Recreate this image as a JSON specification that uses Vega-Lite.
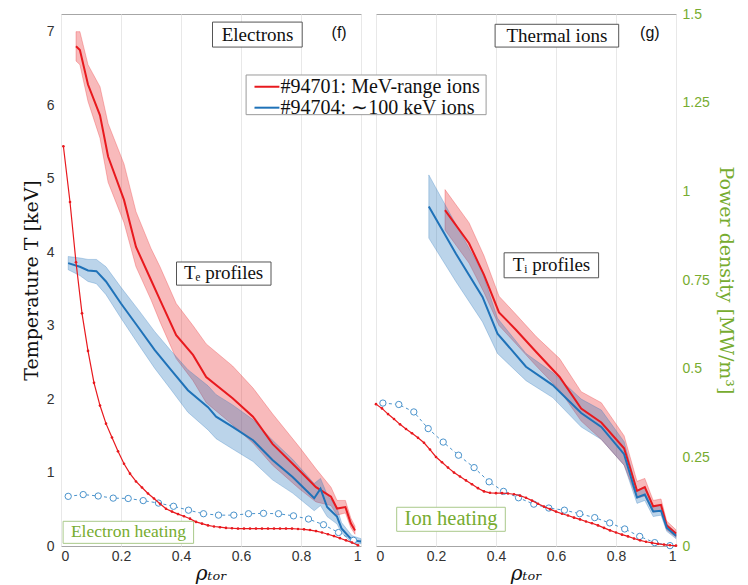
{
  "$schema": "https://vega.github.io/schema/vega-lite/v6.json",
  "padding": {"left": 21, "top": 6, "right": 2, "bottom": 0},
  "background": "white",
  "bounds": "flush",
  "config": {
    "view": {"stroke": "#a6a6a6"},
    "font": "Liberation Sans",
    "axis": {"labelFont": "Liberation Sans", "labelFontSize": 14, "labelColor": "#333333", "titleFont": "DejaVu Serif", "titleFontWeight": "normal", "titleFontSize": 19, "titleColor": "#111111", "domain": false, "ticks": false, "grid": false},
    "concat": {"spacing": 15}
  },
  "datasets": {
    "te": [
      {"shot": "#94701: MeV-range ions", "rho": 0.05, "T": 6.80, "lo": 6.60, "hi": 7.00},
      {"shot": "#94701: MeV-range ions", "rho": 0.063, "T": 6.75, "lo": 6.55, "hi": 7.00},
      {"shot": "#94701: MeV-range ions", "rho": 0.09, "T": 6.28, "lo": 6.05, "hi": 6.55},
      {"shot": "#94701: MeV-range ions", "rho": 0.13, "T": 5.86, "lo": 5.55, "hi": 6.25},
      {"shot": "#94701: MeV-range ions", "rho": 0.157, "T": 5.30, "lo": 4.95, "hi": 5.75},
      {"shot": "#94701: MeV-range ions", "rho": 0.21, "T": 4.71, "lo": 4.40, "hi": 5.20},
      {"shot": "#94701: MeV-range ions", "rho": 0.25, "T": 4.07, "lo": 3.80, "hi": 4.55},
      {"shot": "#94701: MeV-range ions", "rho": 0.30, "T": 3.62, "lo": 3.35, "hi": 4.05},
      {"shot": "#94701: MeV-range ions", "rho": 0.33, "T": 3.35, "lo": 3.05, "hi": 3.80},
      {"shot": "#94701: MeV-range ions", "rho": 0.384, "T": 2.87, "lo": 2.55, "hi": 3.30},
      {"shot": "#94701: MeV-range ions", "rho": 0.44, "T": 2.60, "lo": 2.25, "hi": 3.00},
      {"shot": "#94701: MeV-range ions", "rho": 0.484, "T": 2.30, "lo": 1.95, "hi": 2.75},
      {"shot": "#94701: MeV-range ions", "rho": 0.572, "T": 2.01, "lo": 1.65, "hi": 2.45},
      {"shot": "#94701: MeV-range ions", "rho": 0.64, "T": 1.76, "lo": 1.40, "hi": 2.15},
      {"shot": "#94701: MeV-range ions", "rho": 0.705, "T": 1.39, "lo": 1.10, "hi": 1.80},
      {"shot": "#94701: MeV-range ions", "rho": 0.794, "T": 1.03, "lo": 0.78, "hi": 1.35},
      {"shot": "#94701: MeV-range ions", "rho": 0.85, "T": 0.80, "lo": 0.60, "hi": 1.05},
      {"shot": "#94701: MeV-range ions", "rho": 0.90, "T": 0.67, "lo": 0.55, "hi": 0.80},
      {"shot": "#94701: MeV-range ions", "rho": 0.92, "T": 0.51, "lo": 0.42, "hi": 0.62},
      {"shot": "#94701: MeV-range ions", "rho": 0.948, "T": 0.53, "lo": 0.45, "hi": 0.62},
      {"shot": "#94701: MeV-range ions", "rho": 0.966, "T": 0.31, "lo": 0.25, "hi": 0.38},
      {"shot": "#94701: MeV-range ions", "rho": 0.98, "T": 0.21, "lo": 0.16, "hi": 0.27},
      {"shot": "#94704: ∼100 keV ions", "rho": 0.024, "T": 3.85, "lo": 3.76, "hi": 3.94},
      {"shot": "#94704: ∼100 keV ions", "rho": 0.063, "T": 3.80, "lo": 3.68, "hi": 3.92},
      {"shot": "#94704: ∼100 keV ions", "rho": 0.09, "T": 3.75, "lo": 3.60, "hi": 3.90},
      {"shot": "#94704: ∼100 keV ions", "rho": 0.118, "T": 3.74, "lo": 3.57, "hi": 3.90},
      {"shot": "#94704: ∼100 keV ions", "rho": 0.15, "T": 3.60, "lo": 3.42, "hi": 3.80},
      {"shot": "#94704: ∼100 keV ions", "rho": 0.20, "T": 3.30, "lo": 3.10, "hi": 3.52},
      {"shot": "#94704: ∼100 keV ions", "rho": 0.257, "T": 2.98, "lo": 2.75, "hi": 3.22},
      {"shot": "#94704: ∼100 keV ions", "rho": 0.312, "T": 2.67, "lo": 2.42, "hi": 2.92},
      {"shot": "#94704: ∼100 keV ions", "rho": 0.368, "T": 2.39, "lo": 2.12, "hi": 2.65},
      {"shot": "#94704: ∼100 keV ions", "rho": 0.423, "T": 2.12, "lo": 1.82, "hi": 2.40},
      {"shot": "#94704: ∼100 keV ions", "rho": 0.49, "T": 1.89, "lo": 1.58, "hi": 2.18},
      {"shot": "#94704: ∼100 keV ions", "rho": 0.517, "T": 1.76, "lo": 1.46, "hi": 2.06},
      {"shot": "#94704: ∼100 keV ions", "rho": 0.572, "T": 1.62, "lo": 1.32, "hi": 1.92},
      {"shot": "#94704: ∼100 keV ions", "rho": 0.64, "T": 1.44, "lo": 1.15, "hi": 1.72},
      {"shot": "#94704: ∼100 keV ions", "rho": 0.705, "T": 1.17, "lo": 0.90, "hi": 1.44},
      {"shot": "#94704: ∼100 keV ions", "rho": 0.772, "T": 0.94, "lo": 0.72, "hi": 1.18},
      {"shot": "#94704: ∼100 keV ions", "rho": 0.844, "T": 0.65, "lo": 0.48, "hi": 0.85},
      {"shot": "#94704: ∼100 keV ions", "rho": 0.865, "T": 0.78, "lo": 0.55, "hi": 0.92},
      {"shot": "#94704: ∼100 keV ions", "rho": 0.887, "T": 0.53, "lo": 0.40, "hi": 0.70},
      {"shot": "#94704: ∼100 keV ions", "rho": 0.92, "T": 0.40, "lo": 0.30, "hi": 0.52},
      {"shot": "#94704: ∼100 keV ions", "rho": 0.935, "T": 0.24, "lo": 0.18, "hi": 0.32},
      {"shot": "#94704: ∼100 keV ions", "rho": 0.97, "T": 0.08, "lo": 0.04, "hi": 0.14},
      {"shot": "#94704: ∼100 keV ions", "rho": 1.0, "T": 0.06, "lo": 0.03, "hi": 0.10}
    ],
    "ti": [
      {"shot": "#94701: MeV-range ions", "rho": 0.23, "T": 4.57, "lo": 4.30, "hi": 4.85},
      {"shot": "#94701: MeV-range ions", "rho": 0.31, "T": 4.12, "lo": 3.85, "hi": 4.40},
      {"shot": "#94701: MeV-range ions", "rho": 0.36, "T": 3.69, "lo": 3.45, "hi": 3.95},
      {"shot": "#94701: MeV-range ions", "rho": 0.41, "T": 3.18, "lo": 3.00, "hi": 3.40},
      {"shot": "#94701: MeV-range ions", "rho": 0.467, "T": 2.94, "lo": 2.75, "hi": 3.15},
      {"shot": "#94701: MeV-range ions", "rho": 0.534, "T": 2.64, "lo": 2.45, "hi": 2.85},
      {"shot": "#94701: MeV-range ions", "rho": 0.612, "T": 2.30, "lo": 2.12, "hi": 2.55},
      {"shot": "#94701: MeV-range ions", "rho": 0.684, "T": 1.87, "lo": 1.70, "hi": 2.10},
      {"shot": "#94701: MeV-range ions", "rho": 0.751, "T": 1.68, "lo": 1.45, "hi": 1.95},
      {"shot": "#94701: MeV-range ions", "rho": 0.827, "T": 1.33, "lo": 1.10, "hi": 1.50},
      {"shot": "#94701: MeV-range ions", "rho": 0.87, "T": 0.75, "lo": 0.65, "hi": 0.88},
      {"shot": "#94701: MeV-range ions", "rho": 0.896, "T": 0.80, "lo": 0.68, "hi": 0.92},
      {"shot": "#94701: MeV-range ions", "rho": 0.924, "T": 0.54, "lo": 0.46, "hi": 0.62},
      {"shot": "#94701: MeV-range ions", "rho": 0.95, "T": 0.56, "lo": 0.48, "hi": 0.64},
      {"shot": "#94701: MeV-range ions", "rho": 0.969, "T": 0.28, "lo": 0.22, "hi": 0.34},
      {"shot": "#94701: MeV-range ions", "rho": 1.0, "T": 0.17, "lo": 0.12, "hi": 0.22},
      {"shot": "#94704: ∼100 keV ions", "rho": 0.176, "T": 4.62, "lo": 4.19, "hi": 5.05},
      {"shot": "#94704: ∼100 keV ions", "rho": 0.266, "T": 3.98, "lo": 3.60, "hi": 4.38},
      {"shot": "#94704: ∼100 keV ions", "rho": 0.355, "T": 3.39, "lo": 3.05, "hi": 3.72},
      {"shot": "#94704: ∼100 keV ions", "rho": 0.405, "T": 2.89, "lo": 2.62, "hi": 3.10},
      {"shot": "#94704: ∼100 keV ions", "rho": 0.50, "T": 2.44, "lo": 2.25, "hi": 2.62},
      {"shot": "#94704: ∼100 keV ions", "rho": 0.589, "T": 2.19, "lo": 2.02, "hi": 2.36},
      {"shot": "#94704: ∼100 keV ions", "rho": 0.684, "T": 1.81, "lo": 1.62, "hi": 2.00},
      {"shot": "#94704: ∼100 keV ions", "rho": 0.751, "T": 1.62, "lo": 1.45, "hi": 1.85},
      {"shot": "#94704: ∼100 keV ions", "rho": 0.827, "T": 1.25, "lo": 1.10, "hi": 1.42},
      {"shot": "#94704: ∼100 keV ions", "rho": 0.87, "T": 0.66, "lo": 0.58, "hi": 0.76},
      {"shot": "#94704: ∼100 keV ions", "rho": 0.896, "T": 0.70, "lo": 0.62, "hi": 0.80},
      {"shot": "#94704: ∼100 keV ions", "rho": 0.924, "T": 0.47, "lo": 0.40, "hi": 0.54},
      {"shot": "#94704: ∼100 keV ions", "rho": 0.95, "T": 0.48, "lo": 0.42, "hi": 0.55},
      {"shot": "#94704: ∼100 keV ions", "rho": 0.969, "T": 0.25, "lo": 0.20, "hi": 0.30},
      {"shot": "#94704: ∼100 keV ions", "rho": 1.0, "T": 0.14, "lo": 0.10, "hi": 0.18}
    ],
    "qe_red": [
      {"rho": 0.008, "P": 1.127}, {"rho": 0.03, "P": 0.97}, {"rho": 0.05, "P": 0.80}, {"rho": 0.07, "P": 0.656},
      {"rho": 0.09, "P": 0.55}, {"rho": 0.11, "P": 0.46}, {"rho": 0.13, "P": 0.396}, {"rho": 0.15, "P": 0.345},
      {"rho": 0.17, "P": 0.306}, {"rho": 0.19, "P": 0.267}, {"rho": 0.21, "P": 0.232}, {"rho": 0.23, "P": 0.204},
      {"rho": 0.25, "P": 0.182}, {"rho": 0.27, "P": 0.165}, {"rho": 0.29, "P": 0.148}, {"rho": 0.31, "P": 0.134},
      {"rho": 0.33, "P": 0.119}, {"rho": 0.35, "P": 0.105}, {"rho": 0.37, "P": 0.097}, {"rho": 0.39, "P": 0.090},
      {"rho": 0.41, "P": 0.084}, {"rho": 0.43, "P": 0.077}, {"rho": 0.45, "P": 0.068}, {"rho": 0.47, "P": 0.063},
      {"rho": 0.49, "P": 0.058}, {"rho": 0.51, "P": 0.055}, {"rho": 0.53, "P": 0.053}, {"rho": 0.55, "P": 0.051},
      {"rho": 0.57, "P": 0.050}, {"rho": 0.59, "P": 0.049}, {"rho": 0.61, "P": 0.049}, {"rho": 0.63, "P": 0.049},
      {"rho": 0.65, "P": 0.049}, {"rho": 0.67, "P": 0.049}, {"rho": 0.69, "P": 0.049}, {"rho": 0.71, "P": 0.049},
      {"rho": 0.73, "P": 0.049}, {"rho": 0.75, "P": 0.049}, {"rho": 0.77, "P": 0.049}, {"rho": 0.79, "P": 0.048},
      {"rho": 0.81, "P": 0.047}, {"rho": 0.83, "P": 0.045}, {"rho": 0.85, "P": 0.042}, {"rho": 0.87, "P": 0.038},
      {"rho": 0.89, "P": 0.033}, {"rho": 0.91, "P": 0.028}, {"rho": 0.93, "P": 0.022}, {"rho": 0.95, "P": 0.016},
      {"rho": 0.97, "P": 0.010}, {"rho": 0.99, "P": 0.002}
    ],
    "qe_blue": [
      {"rho": 0.024, "P": 0.140}, {"rho": 0.074, "P": 0.145}, {"rho": 0.124, "P": 0.141}, {"rho": 0.174, "P": 0.135},
      {"rho": 0.224, "P": 0.134}, {"rho": 0.274, "P": 0.128}, {"rho": 0.325, "P": 0.121}, {"rho": 0.375, "P": 0.112},
      {"rho": 0.425, "P": 0.101}, {"rho": 0.475, "P": 0.091}, {"rho": 0.525, "P": 0.087}, {"rho": 0.576, "P": 0.087},
      {"rho": 0.625, "P": 0.091}, {"rho": 0.675, "P": 0.092}, {"rho": 0.725, "P": 0.091}, {"rho": 0.775, "P": 0.085},
      {"rho": 0.825, "P": 0.076}, {"rho": 0.875, "P": 0.060}, {"rho": 0.925, "P": 0.038}, {"rho": 0.975, "P": 0.016}
    ],
    "qi_red": [
      {"rho": 0.0, "P": 0.400}, {"rho": 0.02, "P": 0.388}, {"rho": 0.04, "P": 0.372}, {"rho": 0.06, "P": 0.358},
      {"rho": 0.08, "P": 0.343}, {"rho": 0.10, "P": 0.330}, {"rho": 0.12, "P": 0.318}, {"rho": 0.14, "P": 0.305},
      {"rho": 0.16, "P": 0.291}, {"rho": 0.18, "P": 0.272}, {"rho": 0.20, "P": 0.251}, {"rho": 0.22, "P": 0.236},
      {"rho": 0.24, "P": 0.221}, {"rho": 0.26, "P": 0.207}, {"rho": 0.28, "P": 0.196}, {"rho": 0.30, "P": 0.185},
      {"rho": 0.32, "P": 0.174}, {"rho": 0.34, "P": 0.163}, {"rho": 0.36, "P": 0.154}, {"rho": 0.38, "P": 0.150},
      {"rho": 0.40, "P": 0.149}, {"rho": 0.42, "P": 0.149}, {"rho": 0.44, "P": 0.148}, {"rho": 0.46, "P": 0.146},
      {"rho": 0.48, "P": 0.142}, {"rho": 0.50, "P": 0.136}, {"rho": 0.52, "P": 0.128}, {"rho": 0.54, "P": 0.119},
      {"rho": 0.56, "P": 0.111}, {"rho": 0.58, "P": 0.104}, {"rho": 0.60, "P": 0.097}, {"rho": 0.62, "P": 0.091},
      {"rho": 0.64, "P": 0.086}, {"rho": 0.66, "P": 0.080}, {"rho": 0.68, "P": 0.075}, {"rho": 0.70, "P": 0.069},
      {"rho": 0.72, "P": 0.064}, {"rho": 0.74, "P": 0.058}, {"rho": 0.76, "P": 0.051}, {"rho": 0.78, "P": 0.044},
      {"rho": 0.80, "P": 0.038}, {"rho": 0.82, "P": 0.032}, {"rho": 0.84, "P": 0.027}, {"rho": 0.86, "P": 0.021},
      {"rho": 0.88, "P": 0.016}, {"rho": 0.90, "P": 0.012}, {"rho": 0.92, "P": 0.009}, {"rho": 0.94, "P": 0.006},
      {"rho": 0.96, "P": 0.004}, {"rho": 0.98, "P": 0.002}, {"rho": 1.0, "P": 0.001}
    ],
    "qi_blue": [
      {"rho": 0.023, "P": 0.403}, {"rho": 0.076, "P": 0.399}, {"rho": 0.126, "P": 0.378}, {"rho": 0.174, "P": 0.331},
      {"rho": 0.224, "P": 0.293}, {"rho": 0.275, "P": 0.256}, {"rho": 0.327, "P": 0.221}, {"rho": 0.377, "P": 0.181},
      {"rho": 0.425, "P": 0.154}, {"rho": 0.475, "P": 0.136}, {"rho": 0.526, "P": 0.118}, {"rho": 0.576, "P": 0.107},
      {"rho": 0.628, "P": 0.101}, {"rho": 0.679, "P": 0.091}, {"rho": 0.729, "P": 0.080}, {"rho": 0.779, "P": 0.065},
      {"rho": 0.829, "P": 0.048}, {"rho": 0.879, "P": 0.027}, {"rho": 0.929, "P": 0.0095}, {"rho": 0.98, "P": 0.001}
    ]
  },
  "hconcat": [
    {
      "width": 300,
      "height": 532,
      "resolve": {"scale": {"y": "independent"}},
      "layer": [
        {
          "layer": [
            {
              "data": {"name": "te"},
              "mark": {"type": "area", "fillOpacity": 0.3, "strokeOpacity": 0.35, "strokeWidth": 0.8},
              "encoding": {
                "x": {"field": "rho", "type": "quantitative", "scale": {"domain": [0, 1]},
                  "axis": {"values": [0, 0.1, 0.2, 0.3, 0.4, 0.5, 0.6, 0.7, 0.8, 0.9, 1], "grid": true, "gridColor": "#e8e8e8",
                    "labelExpr": "round(datum.value*10) % 2 == 0 ? '' + datum.value : ''", "labelPadding": 3,
                    "title": "ρₜₒᵣ", "titleFont": "DejaVu Serif", "titleFontStyle": "italic", "titleFontSize": 20, "titlePadding": 0}},
                "y": {"field": "lo", "type": "quantitative", "stack": null, "scale": {"domain": [0, 7.24], "nice": false},
                  "axis": {"values": [0, 1, 2, 3, 4, 5, 6, 7], "labelExpr": "'' + datum.value", "title": "Temperature T [keV]", "labelPadding": 7, "titlePadding": 5}},
                "y2": {"field": "hi"},
                "fill": {"field": "shot", "type": "nominal", "legend": null,
                  "scale": {"domain": ["#94701: MeV-range ions", "#94704: ∼100 keV ions"], "range": ["#e8191e", "#1f72b8"]}},
                "stroke": {"field": "shot", "type": "nominal", "legend": null,
                  "scale": {"domain": ["#94701: MeV-range ions", "#94704: ∼100 keV ions"], "range": ["#e8191e", "#1f72b8"]}}
              }
            },
            {
              "data": {"name": "te"},
              "mark": {"type": "line", "strokeWidth": 2},
              "encoding": {
                "x": {"field": "rho", "type": "quantitative"},
                "y": {"field": "T", "type": "quantitative"},
                "color": {"field": "shot", "type": "nominal", "legend": null,
                  "scale": {"domain": ["#94701: MeV-range ions", "#94704: ∼100 keV ions"], "range": ["#e8191e", "#1f72b8"]}}
              }
            },
            {
              "data": {"values": [{}]},
              "mark": {"type": "rect", "fill": "white", "stroke": "#555555", "strokeWidth": 1},
              "encoding": {"x": {"datum": 0.505}, "x2": {"datum": 0.804}, "y": {"datum": 7.13}, "y2": {"datum": 6.79}}
            },
            {
              "data": {"values": [{}]},
              "mark": {"type": "text", "text": "Electrons", "font": "Liberation Serif", "fontSize": 19, "color": "#111111", "align": "center", "baseline": "middle"},
              "encoding": {"x": {"datum": 0.655}, "y": {"datum": 6.96}}
            },
            {
              "data": {"values": [{}]},
              "mark": {"type": "text", "text": "(f)", "font": "Liberation Sans", "fontSize": 16, "color": "#111111", "align": "center", "baseline": "middle"},
              "encoding": {"x": {"datum": 0.927}, "y": {"datum": 6.98}}
            },
            {
              "data": {"values": [{}]},
              "mark": {"type": "rect", "fill": "white", "stroke": "#555555", "strokeWidth": 1},
              "encoding": {"x": {"datum": 0.385}, "x2": {"datum": 0.70}, "y": {"datum": 3.865}, "y2": {"datum": 3.55}}
            },
            {
              "data": {"values": [{}]},
              "mark": {"type": "text", "text": "Tₑ profiles", "font": "Liberation Serif", "fontSize": 19, "color": "#111111", "align": "center", "baseline": "middle"},
              "encoding": {"x": {"datum": 0.542}, "y": {"datum": 3.71}}
            },
            {
              "data": {"values": [{}]},
              "mark": {"type": "rect", "fill": "white", "stroke": "#a9c98a", "strokeWidth": 1},
              "encoding": {"x": {"datum": 0.007}, "x2": {"datum": 0.442}, "y": {"datum": 0.336}, "y2": {"datum": 0.036}}
            },
            {
              "data": {"values": [{}]},
              "mark": {"type": "text", "text": "Electron heating", "font": "Liberation Serif", "fontSize": 17.5, "color": "#77AC30", "align": "center", "baseline": "middle"},
              "encoding": {"x": {"datum": 0.225}, "y": {"datum": 0.19}}
            }
          ]
        },
        {
          "layer": [
            {
              "data": {"name": "qe_blue"},
              "mark": {"type": "line", "color": "#4a93cc", "strokeWidth": 1, "strokeDash": [3, 3],
                "point": {"filled": false, "fill": "white", "stroke": "#4a93cc", "size": 40, "strokeWidth": 1}},
              "encoding": {
                "x": {"field": "rho", "type": "quantitative"},
                "y": {"field": "P", "type": "quantitative", "scale": {"domain": [0, 1.5], "nice": false}, "axis": null}
              }
            },
            {
              "data": {"name": "qe_red"},
              "mark": {"type": "line", "color": "#e8191e", "strokeWidth": 1.2, "point": {"filled": true, "size": 7, "color": "#e8191e"}},
              "encoding": {
                "x": {"field": "rho", "type": "quantitative"},
                "y": {"field": "P", "type": "quantitative"}
              }
            }
          ]
        }
      ]
    },
    {
      "width": 300,
      "height": 532,
      "resolve": {"scale": {"y": "independent"}},
      "layer": [
        {
          "layer": [
            {
              "data": {"name": "ti"},
              "mark": {"type": "area", "fillOpacity": 0.3, "strokeOpacity": 0.35, "strokeWidth": 0.8},
              "encoding": {
                "x": {"field": "rho", "type": "quantitative", "scale": {"domain": [0, 1]},
                  "axis": {"values": [0, 0.1, 0.2, 0.3, 0.4, 0.5, 0.6, 0.7, 0.8, 0.9, 1], "grid": true, "gridColor": "#e8e8e8",
                    "labelExpr": "round(datum.value*10) % 2 == 0 ? '' + datum.value : ''", "labelPadding": 3,
                    "title": "ρₜₒᵣ", "titleFont": "DejaVu Serif", "titleFontStyle": "italic", "titleFontSize": 20, "titlePadding": 0}},
                "y": {"field": "lo", "type": "quantitative", "stack": null, "scale": {"domain": [0, 7.24], "nice": false}, "axis": null},
                "y2": {"field": "hi"},
                "fill": {"field": "shot", "type": "nominal", "legend": null},
                "stroke": {"field": "shot", "type": "nominal", "legend": null}
              }
            },
            {
              "data": {"name": "ti"},
              "mark": {"type": "line", "strokeWidth": 2},
              "encoding": {
                "x": {"field": "rho", "type": "quantitative"},
                "y": {"field": "T", "type": "quantitative"},
                "color": {"field": "shot", "type": "nominal", "legend": null}
              }
            },
            {
              "data": {"values": [{}]},
              "mark": {"type": "rect", "fill": "white", "stroke": "#555555", "strokeWidth": 1},
              "encoding": {"x": {"datum": 0.397}, "x2": {"datum": 0.809}, "y": {"datum": 7.10}, "y2": {"datum": 6.79}}
            },
            {
              "data": {"values": [{}]},
              "mark": {"type": "text", "text": "Thermal ions", "font": "Liberation Serif", "fontSize": 19, "color": "#111111", "align": "center", "baseline": "middle"},
              "encoding": {"x": {"datum": 0.603}, "y": {"datum": 6.945}}
            },
            {
              "data": {"values": [{}]},
              "mark": {"type": "text", "text": "(g)", "font": "Liberation Sans", "fontSize": 16, "color": "#111111", "align": "center", "baseline": "middle"},
              "encoding": {"x": {"datum": 0.913}, "y": {"datum": 6.98}}
            },
            {
              "data": {"values": [{}]},
              "mark": {"type": "rect", "fill": "white", "stroke": "#555555", "strokeWidth": 1},
              "encoding": {"x": {"datum": 0.427}, "x2": {"datum": 0.742}, "y": {"datum": 3.99}, "y2": {"datum": 3.65}}
            },
            {
              "data": {"values": [{}]},
              "mark": {"type": "text", "text": "Tᵢ profiles", "font": "Liberation Serif", "fontSize": 19, "color": "#111111", "align": "center", "baseline": "middle"},
              "encoding": {"x": {"datum": 0.585}, "y": {"datum": 3.82}}
            },
            {
              "data": {"values": [{}]},
              "mark": {"type": "rect", "fill": "white", "stroke": "#a9c98a", "strokeWidth": 1},
              "encoding": {"x": {"datum": 0.069}, "x2": {"datum": 0.431}, "y": {"datum": 0.527}, "y2": {"datum": 0.20}}
            },
            {
              "data": {"values": [{}]},
              "mark": {"type": "text", "text": "Ion heating", "font": "Liberation Serif", "fontSize": 20.5, "color": "#77AC30", "align": "center", "baseline": "middle"},
              "encoding": {"x": {"datum": 0.25}, "y": {"datum": 0.365}}
            },
            {
              "data": {"values": [{}]},
              "mark": {"type": "rect", "fill": "white", "stroke": "#9a9a9a", "strokeWidth": 1, "clip": false},
              "encoding": {"x": {"datum": -0.433}, "x2": {"datum": 0.367}, "y": {"datum": 6.41}, "y2": {"datum": 5.87}}
            },
            {
              "data": {"values": [{}]},
              "mark": {"type": "rule", "color": "#e8191e", "strokeWidth": 2, "clip": false},
              "encoding": {"x": {"datum": -0.405}, "x2": {"datum": -0.322}, "y": {"datum": 6.25}}
            },
            {
              "data": {"values": [{}]},
              "mark": {"type": "rule", "color": "#1f72b8", "strokeWidth": 2, "clip": false},
              "encoding": {"x": {"datum": -0.405}, "x2": {"datum": -0.322}, "y": {"datum": 5.965}}
            },
            {
              "data": {"values": [{}]},
              "mark": {"type": "text", "text": "#94701: MeV-range ions", "font": "Liberation Serif", "fontSize": 20, "color": "#111111", "align": "left", "baseline": "middle"},
              "encoding": {"x": {"datum": -0.318}, "y": {"datum": 6.25}}
            },
            {
              "data": {"values": [{}]},
              "mark": {"type": "text", "text": "#94704: ∼100 keV ions", "font": "Liberation Serif", "fontSize": 20, "color": "#111111", "align": "left", "baseline": "middle"},
              "encoding": {"x": {"datum": -0.318}, "y": {"datum": 5.965}}
            }
          ]
        },
        {
          "layer": [
            {
              "data": {"name": "qi_blue"},
              "mark": {"type": "line", "color": "#4a93cc", "strokeWidth": 1, "strokeDash": [3, 3],
                "point": {"filled": false, "fill": "white", "stroke": "#4a93cc", "size": 40, "strokeWidth": 1}},
              "encoding": {
                "x": {"field": "rho", "type": "quantitative"},
                "y": {"field": "P", "type": "quantitative", "scale": {"domain": [0, 1.5], "nice": false},
                  "axis": {"orient": "right", "values": [0, 0.25, 0.5, 0.75, 1, 1.25, 1.5], "labelExpr": "'' + datum.value", "labelColor": "#77AC30",
                    "labelPadding": 6, "title": "Power density [MW/m³]", "titleColor": "#77AC30", "titlePadding": 6}}
              }
            },
            {
              "data": {"name": "qi_red"},
              "mark": {"type": "line", "color": "#e8191e", "strokeWidth": 1.2, "point": {"filled": true, "size": 7, "color": "#e8191e"}},
              "encoding": {
                "x": {"field": "rho", "type": "quantitative"},
                "y": {"field": "P", "type": "quantitative"}
              }
            }
          ]
        }
      ]
    }
  ]
}
